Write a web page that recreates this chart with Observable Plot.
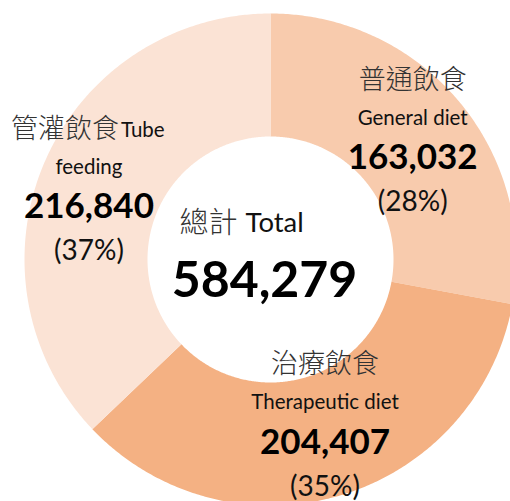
<!DOCTYPE html>
<html><head><meta charset="utf-8">
<script src="https://cdn.jsdelivr.net/npm/d3@7"></script>
<script src="https://cdn.jsdelivr.net/npm/@observablehq/plot@0.6"></script>
<style>html,body{margin:0;padding:0;background:#fff;} #chart svg{display:block}</style>
</head><body><div id="chart"></div>
<script>
// ---- data ----
const categoriesZh = ["普通飲食", "治療飲食", "管灌飲食"];
const categoriesEn = ["General diet", "Therapeutic diet", "Tube feeding"];
const values = [163032, 204407, 216840];
const totalZh = "總計";
const totalEn = "Total";

// ---- layout / style ----
const colors = ["#F8CBAD", "#F4B183", "#FBE3D5"];
const W = 510, H = 501, CX = 270, CY = 259, R = 246, INNER = 0.5;
const labelRadius = [0.752, 0.711, 0.79];
const labelNudgeDeg = [0, -1.6, -2.3];
const splitEnglish = [false, false, true];
const FONT = "Lato, 'Noto Sans CJK TC', sans-serif";
const CJK = "'Noto Sans CJK TC', Lato, sans-serif";

const total = d3.sum(values);
const fmt = d3.format(",");
const arcs = d3.pie().sort(null).value(d => d)(values);

// polygon rings for each slice (geometry sampled along the arcs)
const ringPts = [];
arcs.forEach((a, i) => {
  const n = Math.max(2, Math.ceil((a.endAngle - a.startAngle) / (Math.PI / 360)));
  for (let k = 0; k <= n; k++) {
    const t = a.startAngle + (a.endAngle - a.startAngle) * k / n;
    ringPts.push({cat: categoriesEn[i], x: Math.sin(t), y: Math.cos(t)});
  }
  for (let k = n; k >= 0; k--) {
    const t = a.startAngle + (a.endAngle - a.startAngle) * k / n;
    ringPts.push({cat: categoriesEn[i], x: INNER * Math.sin(t), y: INNER * Math.cos(t)});
  }
});

const labels = arcs.map((a, i) => {
  const m = (a.startAngle + a.endAngle) / 2 + labelNudgeDeg[i] * Math.PI / 180;
  const en = categoriesEn[i];
  const sp = en.indexOf(" ");
  return {
    x: labelRadius[i] * Math.sin(m), y: labelRadius[i] * Math.cos(m),
    zh: categoriesZh[i],
    split: splitEnglish[i],
    enHead: splitEnglish[i] ? en.slice(0, sp) : "",
    enLine: splitEnglish[i] ? en.slice(sp + 1) : en,
    value: fmt(values[i]),
    pct: "(" + Math.round(values[i] / total * 100) + "%)"
  };
});
const center = [{x: 0, y: 0, zh: totalZh, en: totalEn, value: fmt(total)}];

const plot = Plot.plot({
  width: W, height: H,
  margin: 0,
  style: {background: "#fff"},
  x: {domain: [-CX / R, (W - CX) / R], axis: null},
  y: {domain: [-(H - CY) / R, CY / R], axis: null},
  color: {domain: categoriesEn, range: colors},
  marks: [
    Plot.line(ringPts, {x: "x", y: "y", fill: "cat", z: "cat", stroke: "none", curve: "linear-closed"}),
    // slice labels
    Plot.text(labels.filter(d => !d.split), {x: "x", y: "y", text: "zh", dy: -61, fontSize: 27, fontWeight: 300, fontFamily: CJK, fill: "#333"}),
    Plot.text(labels.filter(d => d.split), {x: "x", y: "y", text: "zh", dy: -61, dx: 30, textAnchor: "end", fontSize: 27, fontWeight: 300, fontFamily: CJK, fill: "#333"}),
    Plot.text(labels.filter(d => d.split), {x: "x", y: "y", text: "enHead", dy: -60, dx: 32, textAnchor: "start", fontSize: 20.5, fontFamily: FONT, fill: "#111"}),
    Plot.text(labels, {x: "x", y: "y", text: "enLine", dy: -23, fontSize: 20.5, fontFamily: FONT, fill: "#111"}),
    Plot.text(labels, {x: "x", y: "y", text: "value", dy: 17, fontSize: 35, fontWeight: "bold", fontFamily: FONT, fill: "#000"}),
    Plot.text(labels, {x: "x", y: "y", text: "pct", dy: 61, fontSize: 28, fontFamily: FONT, fill: "#111"}),
    // center total
    Plot.text(center, {x: "x", y: "y", text: "zh", dx: -33, dy: -36, textAnchor: "end", fontSize: 29, fontWeight: 300, fontFamily: CJK, fill: "#333"}),
    Plot.text(center, {x: "x", y: "y", text: "en", dx: -25, dy: -36, textAnchor: "start", fontSize: 27.5, fontFamily: FONT, fill: "#111"}),
    Plot.text(center, {x: "x", y: "y", text: "value", dx: -6, dy: 21, fontSize: 50, fontWeight: "bold", fontFamily: FONT, fill: "#000"})
  ]
});
document.getElementById("chart").append(plot);
</script>
</body></html>
